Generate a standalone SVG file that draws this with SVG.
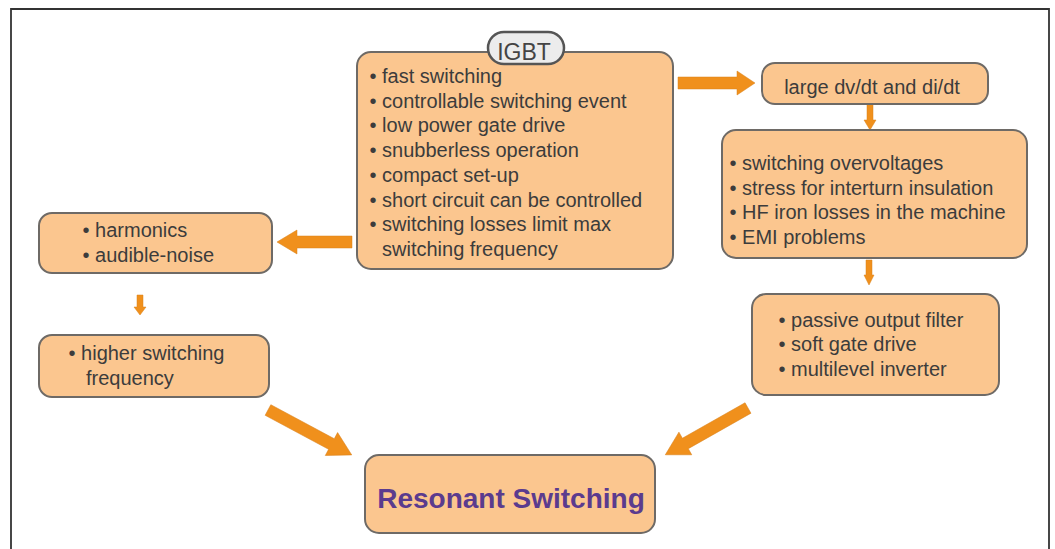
<svg xmlns="http://www.w3.org/2000/svg" width="1055" height="549" viewBox="0 0 1055 549">
<style>
.box{fill:#fbc68f;stroke:#6e6a66;stroke-width:2}
.t{font-family:"Liberation Sans",Arial,sans-serif;font-size:20px;fill:#3c3c3c}
.c{text-anchor:middle}
.arr{fill:#f0901c;stroke:#d9801a;stroke-width:0.5}
.frame{fill:none;stroke:#333;stroke-width:1.8}
</style>
<rect width="1055" height="549" fill="#ffffff"/>
<path class="frame" d="M11,549 V9 H1049 V549"/>
<g id="connectors">
<polygon class="arr" points="0,-6 59,-6 59,-12 77,0 59,12 59,6 0,6" transform="translate(678,83)"/>
<polygon class="arr" points="0,-6 55,-6 55,-12 75,0 55,12 55,6 0,6" transform="translate(352,242) rotate(180)"/>
<polygon class="arr" points="0,-3 16,-3 16,-6 26,0 16,6 16,3 0,3" transform="translate(870,104) rotate(90)"/>
<polygon class="arr" points="0,-3 15,-3 15,-5 25,0 15,5 15,3 0,3" transform="translate(869,260) rotate(90)"/>
<polygon class="arr" points="0,-3 12,-3 12,-6 20,0 12,6 12,3 0,3" transform="translate(140,295) rotate(90)"/>
<polygon class="arr" points="0,-6 72,-6 72,-13 95,0 72,13 72,6 0,6" transform="translate(268,410) rotate(28.2)"/>
<polygon class="arr" points="0,-6 72,-6 72,-13 95,0 72,13 72,6 0,6" transform="translate(748,408) rotate(150.5)"/>
</g>
<g id="igbt">
<rect class="box" x="357" y="52" width="316" height="217" rx="14"/>
<rect x="488" y="32" width="76" height="32" rx="16" fill="#ececec" stroke="#555" stroke-width="2.5"/>
<text class="t c" x="524" y="60" style="font-size:23px;fill:#444">IGBT</text>
<text class="t" x="369.5" y="83">• fast switching</text>
<text class="t" x="369.5" y="107.7">• controllable switching event</text>
<text class="t" x="369.5" y="132.4">• low power gate drive</text>
<text class="t" x="369.5" y="157.1">• snubberless operation</text>
<text class="t" x="369.5" y="181.8">• compact set-up</text>
<text class="t" x="369.5" y="206.5">• short circuit can be controlled</text>
<text class="t" x="369.5" y="231.2">• switching losses limit max</text>
<text class="t" x="382" y="255.9">switching frequency</text>
</g>
<g id="dvdt">
<rect class="box" x="762" y="63" width="226" height="41" rx="13"/>
<text class="t c" x="872" y="94">large dv/dt and di/dt</text>
</g>
<g id="problems">
<rect class="box" x="722" y="130" width="305" height="128" rx="14"/>
<text class="t" x="729.5" y="170">• switching overvoltages</text>
<text class="t" x="729.5" y="194.5">• stress for interturn insulation</text>
<text class="t" x="729.5" y="219">• HF iron losses in the machine</text>
<text class="t" x="729.5" y="243.5">• EMI problems</text>
</g>
<g id="solutions">
<rect class="box" x="752" y="294" width="247" height="101" rx="14"/>
<text class="t" x="778.5" y="327">• passive output filter</text>
<text class="t" x="778.5" y="351.3">• soft gate drive</text>
<text class="t" x="778.5" y="375.6">• multilevel inverter</text>
</g>
<g id="harmonics">
<rect class="box" x="39" y="213" width="233" height="60" rx="13"/>
<text class="t" x="82.5" y="237">• harmonics</text>
<text class="t" x="82.5" y="262">• audible-noise</text>
</g>
<g id="higher">
<rect class="box" x="39" y="335" width="230" height="62" rx="13"/>
<text class="t" x="68.5" y="360">• higher switching</text>
<text class="t" x="86" y="385">frequency</text>
</g>
<g id="resonant">
<rect class="box" x="365" y="455" width="290" height="78" rx="14"/>
<text class="t c" x="511" y="508" style="font-size:28px;font-weight:bold;fill:#5b3b8e">Resonant Switching</text>
</g>
</svg>
